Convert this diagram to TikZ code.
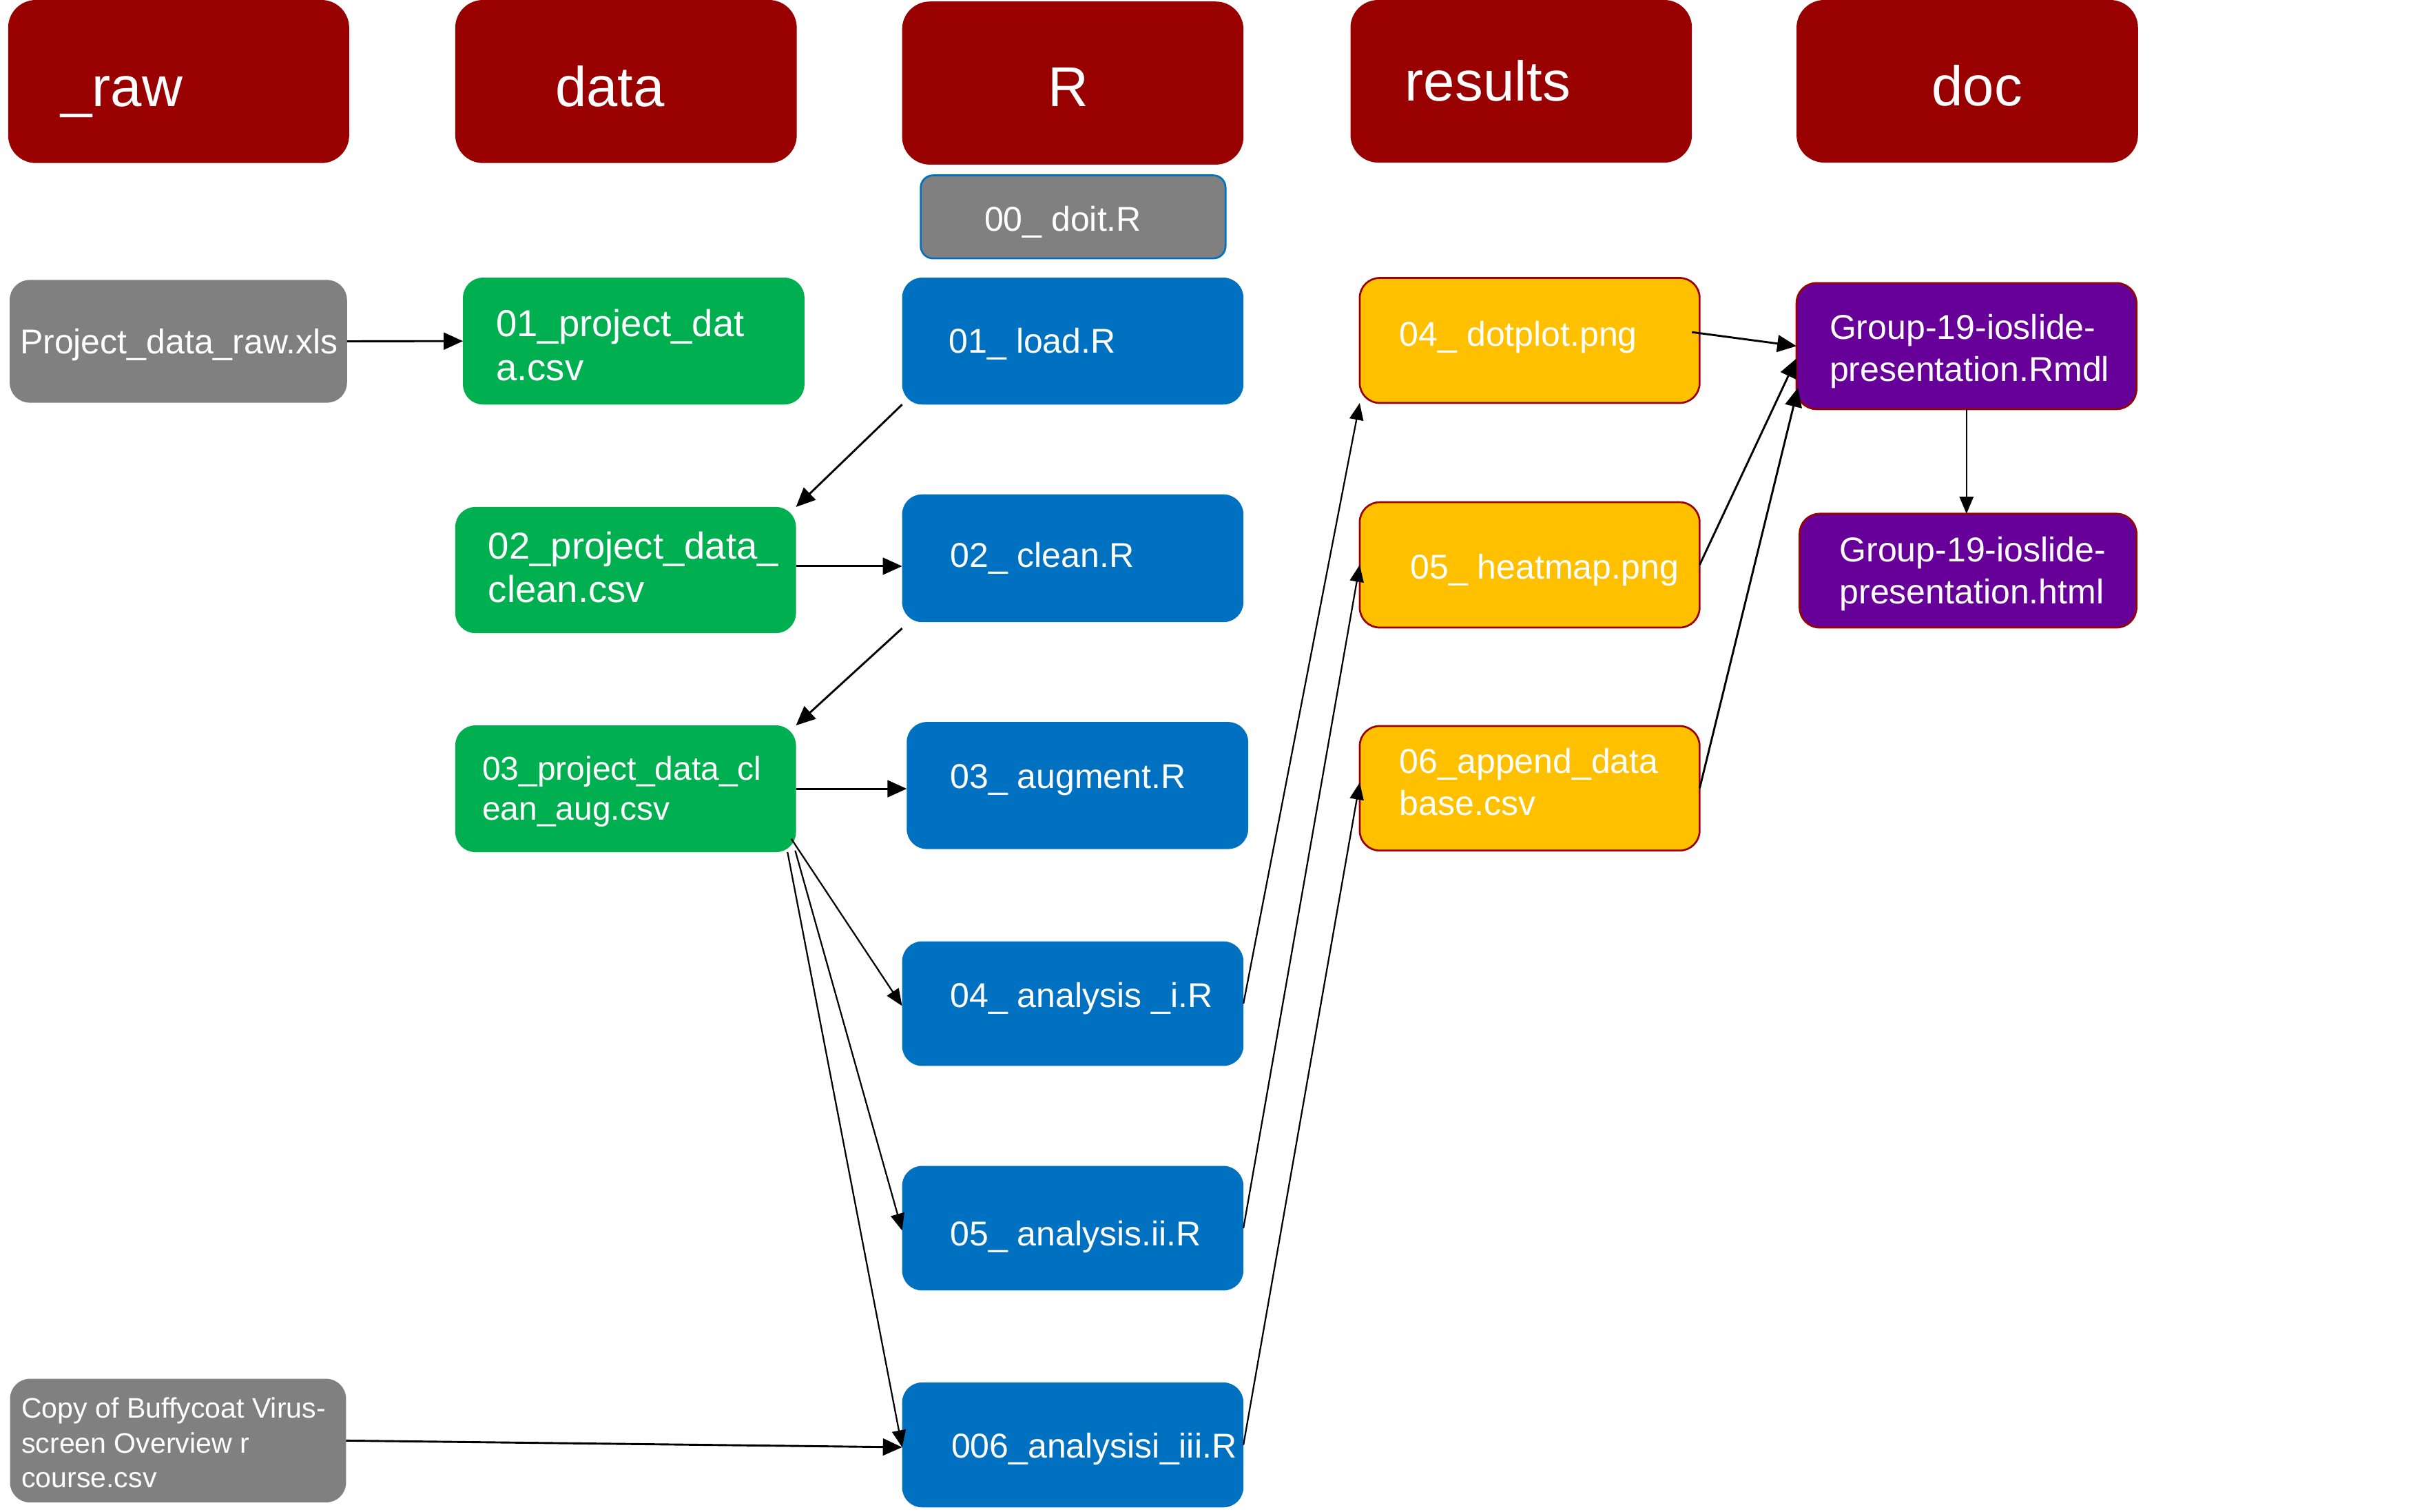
\documentclass[tikz,border=0pt]{standalone}
\usepackage{fontspec}
\setmainfont{Liberation Sans}
\usetikzlibrary{arrows.meta,calc}
\definecolor{hdr}{HTML}{990000}
\definecolor{grn}{HTML}{00B050}
\definecolor{blu}{HTML}{0070C0}
\definecolor{gry}{HTML}{808080}
\definecolor{ylw}{HTML}{FFC000}
\definecolor{prp}{HTML}{660099}
\newcommand\mkbox[6]{\node[rbox,#6,minimum width={#4-#2},minimum height={#5-#3}] (#1) at ({(#2+#4)/2},{(#3+#5)/2}) {};}
\begin{document}
\begin{tikzpicture}[x=1pt,y=-1pt,
  rbox/.style={rectangle,rounded corners=13pt,inner sep=0pt,outer sep=0pt},
  hdrbox/.style={fill=hdr,rounded corners=18pt},
  grnbox/.style={fill=grn},
  blubox/.style={fill=blu},
  grybox/.style={fill=gry},
  doitbox/.style={fill=gry,draw=blu,line width=1.2pt,rounded corners=8pt},
  ylwbox/.style={fill=ylw,draw=hdr,line width=1.2pt},
  prpbox/.style={fill=prp,draw=hdr,line width=1.2pt},
  lbl/.style={text=white,anchor=base west,inner sep=0pt,outer sep=0pt,align=left,font=\fontsize{22.4}{27.5}\selectfont},
  blbl/.style={lbl,font=\fontsize{24.4}{28.6}\selectfont},
  nlbl/.style={lbl,font=\fontsize{21.5}{26.2}\selectfont},
  hlbl/.style={lbl,font=\fontsize{36.5}{43}\selectfont},
  slbl/.style={lbl,font=\fontsize{18.4}{22.5}\selectfont},
  arr/.style={-{Triangle[length=12.5pt,width=11pt]},line width=1.3pt,black},
  tarr/.style={-{Triangle[length=11pt,width=9pt]},line width=1pt,black}]
\useasboundingbox (0,0) rectangle (1568.8,982.6);
% headers
\mkbox{hraw}{5.3}{0}{227}{106}{hdrbox}
\mkbox{hdata}{296}{0}{518}{106}{hdrbox}
\mkbox{hR}{586.5}{1}{808.4}{107}{hdrbox}
\mkbox{hres}{878}{0}{1100}{105.7}{hdrbox}
\mkbox{hdoc}{1168}{0}{1390}{105.7}{hdrbox}
\node[hlbl] (thraw) at (39.6,69) {\_raw};
\node[hlbl] (thdata) at (361,69) {data};
\node[hlbl] (thR) at (681.6,69) {R};
\node[hlbl] (thres) at (913.5,65.7) {results};
\node[hlbl] (thdoc) at (1256,68.6) {doc};
% boxes
\mkbox{doit}{598.6}{114}{796.8}{168}{doitbox}
\mkbox{rawxls}{6.3}{182}{225.6}{261.8}{grybox}
\mkbox{p01}{301}{180.5}{523}{263}{grnbox}
\mkbox{load}{586.5}{180.5}{808.4}{263}{blubox}
\mkbox{dot}{884}{180.7}{1105}{262}{ylwbox}
\mkbox{rmdl}{1168}{184}{1389}{266}{prpbox}
\mkbox{p02}{296}{329.6}{517.5}{411.6}{grnbox}
\mkbox{clean}{586.5}{321.4}{808.4}{404.5}{blubox}
\mkbox{heat}{884}{326.5}{1105}{408}{ylwbox}
\mkbox{html}{1170}{334}{1389}{408}{prpbox}
\mkbox{p03}{296}{471.6}{517.5}{554}{grnbox}
\mkbox{aug}{589.5}{469.4}{811.5}{552}{blubox}
\mkbox{six}{884}{472}{1105}{553}{ylwbox}
\mkbox{a04}{586.5}{612}{808.4}{693}{blubox}
\mkbox{a05}{586.5}{758}{808.4}{839}{blubox}
\mkbox{a06}{586.5}{898.8}{808.4}{980}{blubox}
\mkbox{copy}{6.5}{896.4}{225}{976.8}{grybox}
% labels (multi-line labels are placed by the baseline of their last line)
\node[lbl] (tdoit) at (640,150.4) {00\_ doit.R};
\node[lbl] (trawxls) at (13,230) {Project\_data\_raw.xls};
\node[blbl] (tp01) at (322.5,247.3) {01\_project\_dat\\a.csv};
\node[lbl] (tload) at (617,229.3) {01\_ load.R};
\node[lbl] (tdot) at (910,225) {04\_ dotplot.png};
\node[lbl] (trmdl) at (1189.5,248) {Group-19-ioslide-\\presentation.Rmdl};
\node[blbl] (tp02) at (317.5,391.8) {02\_project\_data\_\\clean.csv};
\node[lbl] (tclean) at (617.8,369) {02\_ clean.R};
\node[lbl] (theat) at (917,376.5) {05\_ heatmap.png};
\node[lbl] (thtml) at (1196,392.5) {Group-19-ioslide-\\presentation.html};
\node[nlbl] (tp03) at (313.5,533.2) {03\_project\_data\_cl\\ean\_aug.csv};
\node[lbl] (taug) at (617.8,512.7) {03\_ augment.R};
\node[lbl] (tsix) at (910,530) {06\_append\_data\\base.csv};
\node[lbl] (ta04) at (617.8,655) {04\_ analysis \_i.R};
\node[lbl] (ta05) at (617.8,810) {05\_ analysis.ii.R};
\node[lbl] (ta06) at (618.5,948) {006\_analysisi\_iii.R};
\node[slbl] (tcopy) at (14,967) {Copy of Buffycoat Virus-\\screen Overview r\\course.csv};
% connectors
\draw[arr] (rawxls.east) -- (p01.west);
\draw[arr] (load.south west) -- (p02.north east);
\draw[arr] ($(p02.east)+(0,-2.5)$) coordinate (c3) -- (c3 -| clean.west);
\draw[arr] ($(clean.south west)+(0,4)$) -- (p03.north east);
\draw[arr] (p03.east) -- (p03.east -| aug.west);
\coordinate (f1) at ($(p03.south east)+(-3,-8.6)$);
\coordinate (f2) at ($(p03.south east)+(-0.5,-1)$);
\coordinate (f3) at ($(p03.south east)+(-5.5,0)$);
\draw[tarr] (f1) -- ($(a04.west)+(0,1.5)$);
\draw[tarr] (f2) -- ($(a05.west)+(0,1.5)$);
\draw[tarr] (f3) -- ($(a06.west)+(0,1.5)$);
\draw[arr] (copy.east) -- ($(a06.west)+(0,1.5)$);
\draw[tarr] (a04.east) -- (dot.south west);
\draw[tarr] (a05.east) -- (heat.west);
\draw[tarr] (a06.east) -- ($(six.west)+(0,-3.7)$);
\draw[arr] ($(dot.east)+(-5,-5.4)$) -- (rmdl.west);
\draw[arr] (heat.east) -- ($(rmdl.west)+(0,8)$);
\draw[arr] (six.east) -- ($(rmdl.west)+(1,27)$);
\draw[tarr] (rmdl.south) -- (rmdl.south |- html.north);
\end{tikzpicture}
\end{document}
